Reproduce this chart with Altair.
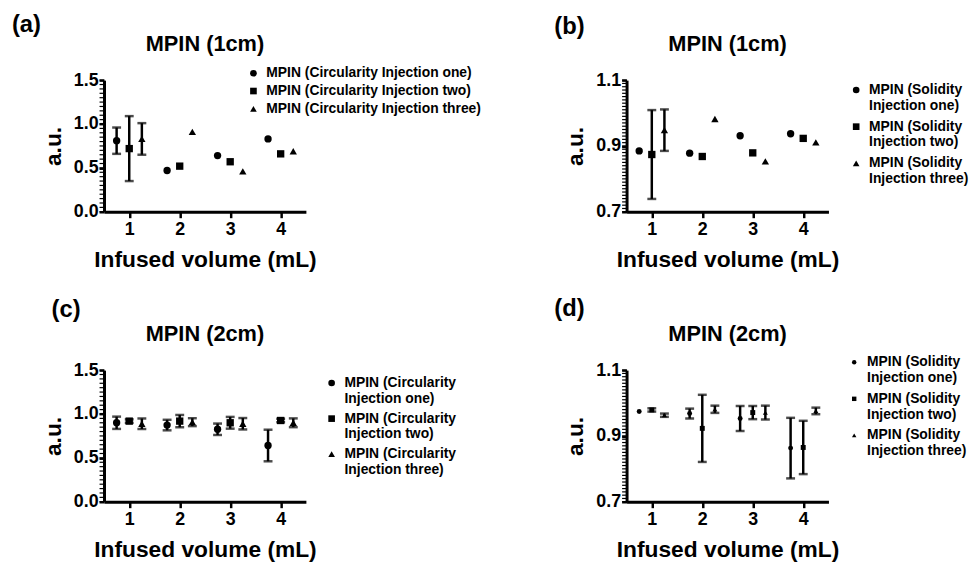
import altair as alt
import pandas as pd

FONT = "Liberation Sans"

volumes = [1, 2, 3, 4]
offsets = [-0.25, 0.0, 0.25]
injections = ["one", "two", "three"]
shapes = ["circle", "square", "triangle-up"]

# Panel (a): MPIN (1cm) circularity
a_one = [0.81, 0.47, 0.64, 0.83]
a_one_err = [0.15, 0, 0, 0]
a_two = [0.72, 0.52, 0.57, 0.66]
a_two_err = [0.37, 0, 0, 0]
a_three = [0.83, 0.91, 0.46, 0.69]
a_three_err = [0.18, 0, 0, 0]

# Panel (b): MPIN (1cm) solidity
b_one = [0.885, 0.878, 0.931, 0.937]
b_one_err = [0, 0, 0, 0]
b_two = [0.874, 0.868, 0.879, 0.923]
b_two_err = [0.135, 0, 0, 0]
b_three = [0.948, 0.982, 0.853, 0.911]
b_three_err = [0.063, 0, 0, 0]

# Panel (c): MPIN (2cm) circularity
c_one = [0.90, 0.874, 0.826, 0.641]
c_one_err = [0.07, 0.06, 0.065, 0.18]
c_two = [0.919, 0.919, 0.90, 0.926]
c_two_err = [0.02, 0.07, 0.067, 0.02]
c_three = [0.889, 0.907, 0.889, 0.90]
c_three_err = [0.06, 0.045, 0.065, 0.05]

# Panel (d): MPIN (2cm) solidity
d_one = [0.974, 0.968, 0.953, 0.863]
d_one_err = [0, 0.015, 0.038, 0.092]
d_two = [0.979, 0.923, 0.971, 0.865]
d_two_err = [0.005, 0.102, 0.02, 0.081]
d_three = [0.963, 0.981, 0.971, 0.976]
d_three_err = [0.005, 0.011, 0.021, 0.01]

circ_names = ["MPIN (Circularity Injection %s)" % k for k in injections]
sol_names = ["MPIN (Solidity Injection %s)" % k for k in injections]

major_a = [0.0, 0.5, 1.0, 1.5]
minor_a = [round(i * 0.05, 2) for i in range(31)]
major_b = [0.7, 0.8, 0.9, 1.0, 1.1]
minor_b = [round(0.7 + i * 0.01, 2) for i in range(41)]


def make_df(means, errs, names):
    rows = []
    for k, (m, e, nm) in enumerate(zip(means, errs, names)):
        for v, mv, ev in zip(volumes, m, e):
            rows.append({"x": v + offsets[k], "mean": mv, "err": ev,
                         "lo": mv - ev, "hi": mv + ev, "series": nm})
    return pd.DataFrame(rows)


W, H = 204, 133


def panel(df, names, ydom, major, minor, title, letter, lx, ly, legx, legy,
          wrap, psize, lsize, rowpad):
    xs = alt.Scale(domain=[0.5, 4.5], nice=False, zero=False)
    ys = alt.Scale(domain=ydom, nice=False, zero=False)
    xaxis = alt.Axis(values=volumes, title="Infused volume (mL)", format="d",
                     domain=True, domainWidth=3, domainColor="black",
                     ticks=True, tickWidth=2.5, tickColor="black",
                     tickSize=6, labelPadding=3, titlePadding=10,
                     labelOverlap=False)
    yaxis = alt.Axis(values=major, format=".1f", title="a.u.", tickSize=5,
                     domain=True, domainWidth=3, domainColor="black",
                     ticks=True, tickWidth=2.5, tickColor="black",
                     labelPadding=1, titlePadding=8, orient="left",
                     labelOverlap=False)
    base = alt.Chart(df)
    if wrap:
        lexpr = "split(replace(datum.label, ' Injection', '|Injection'), '|')"
    else:
        lexpr = "datum.label"
    legend = alt.Legend(title=None, orient="none", legendX=legx, legendY=legy,
                        labelExpr=lexpr, symbolSize=lsize, rowPadding=rowpad,
                        labelFontSize=14, labelFont=FONT, labelFontWeight="bold",
                        labelColor="black", symbolFillColor="black",
                        symbolStrokeColor="black", symbolStrokeWidth=0,
                        symbolOpacity=1, labelOffset=6, padding=0,
                        labelLimit=400)
    pts = base.mark_point(filled=True, opacity=1, color="black", size=psize,
                          strokeWidth=0).encode(
        x=alt.X("x:Q", scale=xs, axis=xaxis),
        y=alt.Y("mean:Q", scale=ys, axis=yaxis),
        shape=alt.Shape("series:N", scale=alt.Scale(domain=names, range=shapes),
                        legend=legend),
    )
    # minor ticks along the y axis (decoration, positions come from the y scale)
    minor_layer = alt.Chart(pd.DataFrame({"v": minor})).mark_rule(
        color="black", strokeWidth=1.2).encode(
        y=alt.Y("v:Q", scale=ys), x=alt.value(-4.5), x2=alt.value(0))
    eb = base.transform_filter("datum.err > 0")
    bars = eb.mark_rule(color="black", strokeWidth=2.5).encode(
        x="x:Q", y=alt.Y("lo:Q", scale=ys), y2="hi:Q")
    cap_lo = eb.mark_tick(color="black", orient="horizontal", size=9,
                          thickness=2.5).encode(x="x:Q", y=alt.Y("lo:Q", scale=ys))
    cap_hi = eb.mark_tick(color="black", orient="horizontal", size=9,
                          thickness=2.5).encode(x="x:Q", y=alt.Y("hi:Q", scale=ys))
    txt = alt.Chart(pd.DataFrame({"t": [letter], "ti": [title]}))
    lab = txt.mark_text(
        align="left", baseline="top", fontSize=24, fontWeight="bold",
        font=FONT, color="black").encode(
        text="t:N", x=alt.value(lx), y=alt.value(ly))
    ttl = txt.mark_text(
        align="center", baseline="alphabetic", fontSize=22, fontWeight="bold",
        font=FONT, color="black").encode(
        text="ti:N", x=alt.value(W / 2), y=alt.value(-29))
    ch = alt.layer(pts, minor_layer, bars, cap_lo, cap_hi, lab, ttl)
    return ch.properties(width=W, height=H)


pa = panel(make_df([a_one, a_two, a_three], [a_one_err, a_two_err, a_three_err], circ_names),
           circ_names, [0, 1.5], major_a, minor_a, "MPIN (1cm)", "(a)",
           -93, -68, 144, -14, False, 55, 45, 4)
pb = panel(make_df([b_one, b_two, b_three], [b_one_err, b_two_err, b_three_err], sol_names),
           sol_names, [0.7, 1.1], major_b, minor_b, "MPIN (1cm)", "(b)",
           -73, -66, 225, 3, True, 55, 45, 7)
pc = panel(make_df([c_one, c_two, c_three], [c_one_err, c_two_err, c_three_err], circ_names),
           circ_names, [0, 1.5], major_a, minor_a, "MPIN (2cm)", "(c)",
           -53, -73, 223, 6, True, 55, 45, 6)
pd_ = panel(make_df([d_one, d_two, d_three], [d_one_err, d_two_err, d_three_err], sol_names),
            sol_names, [0.7, 1.1], major_b, minor_b, "MPIN (2cm)", "(d)",
            -73, -74, 223, -15, True, 25, 20, 7)

chart = alt.concat(pa, pb, pc, pd_, columns=2,
                   spacing={"row": 160, "column": 324}, bounds="flush").resolve_scale(
    shape="independent", x="independent", y="independent").resolve_legend(
    shape="independent").properties(
    padding={"left": 4, "top": 2, "right": 0, "bottom": 0}
).configure_view(stroke=None).configure_axis(
    domainColor="black", domainWidth=3, tickColor="black", tickWidth=2.5,
    labelFont=FONT, labelFontSize=18, labelFontWeight="bold", labelColor="black",
    titleFont=FONT, titleFontSize=23, titleFontWeight="bold", titleColor="black",
    grid=False, labelOverlap=False)

chart.save("out.html", embed_options={"renderer": "svg", "actions": False})
